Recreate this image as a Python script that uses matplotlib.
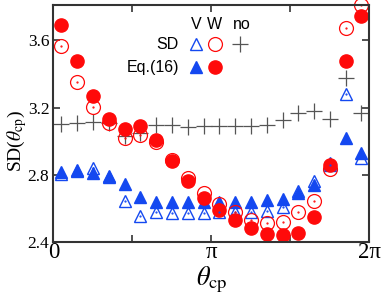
import numpy as np
import matplotlib
matplotlib.use("Agg")
import matplotlib.pyplot as plt

plt.rcParams["mathtext.fontset"] = "stix"

# bin centres of theta_cp (20 bins over 0..2pi)
theta = (np.arange(20) + 0.5) * np.pi / 10

v_sd = [2.806, 2.83, 2.838, 2.79, 2.646, 2.557, 2.577, 2.573, 2.575, 2.575,
        2.578, 2.578, 2.578, 2.587, 2.606, 2.705, 2.761, 2.86, 3.28, 2.898]
v_eq = [2.815, 2.822, 2.81, 2.795, 2.743, 2.666, 2.641, 2.64, 2.64, 2.64,
        2.64, 2.64, 2.64, 2.65, 2.657, 2.69, 2.739, 2.87, 3.02, 2.928]
w_sd = [3.564, 3.355, 3.202, 3.107, 3.017, 3.037, 2.997, 2.888, 2.779, 2.689,
        2.625, 2.579, 2.53, 2.514, 2.52, 2.576, 2.645, 2.834, 3.674, 3.81]
w_eq = [3.694, 3.48, 3.266, 3.133, 3.071, 3.091, 3.01, 2.882, 2.762, 2.663,
        2.589, 2.53, 2.484, 2.45, 2.44, 2.456, 2.549, 2.858, 3.479, 3.747]
no_w = [3.103, 3.107, 3.116, 3.107, 3.03, 3.05, 3.097, 3.097, 3.083, 3.09,
        3.09, 3.09, 3.09, 3.097, 3.125, 3.17, 3.18, 3.13, 3.376, 3.17]

red = "#ff0a0a"
blue = "#1448f0"
gray = "#555555"

fig = plt.figure(figsize=(3.82, 2.97), dpi=100)
ax = fig.add_axes([0.140, 0.185, 0.827, 0.798])

ax.plot(theta, no_w, ls="none", marker="+", ms=11, mew=0.9, color=gray, clip_on=False)
ax.plot(theta, v_sd, ls="none", marker="^", ms=9, mfc="none", mec=blue, mew=1.0, clip_on=False)
ax.plot(theta, v_eq, ls="none", marker="^", ms=9, color=blue, clip_on=False)
ax.plot(theta, w_sd, ls="none", marker="o", ms=10, mfc="none", mec=red, mew=0.9, clip_on=False)
ax.plot(theta, w_eq, ls="none", marker="o", ms=9.5, color=red, clip_on=False)
# little dots in the centre of the open symbols
ax.plot(theta, v_sd, ls="none", marker=".", ms=1.2, color=blue, clip_on=False)
ax.plot(theta, w_sd, ls="none", marker=".", ms=1.2, color=red, clip_on=False)

ax.set_xlim(0, 2 * np.pi)
ax.set_ylim(2.4, 3.81)
ax.set_xticks(np.arange(5) * np.pi / 2)
ax.set_xticklabels(["0", "", "π", "", "2π"], fontsize=16.5, family="Liberation Serif")
ax.set_yticks([2.4, 2.8, 3.2, 3.6])
ax.set_yticklabels(["2.4", "2.8", "3.2", "3.6"], fontsize=12.5, family="Liberation Serif")
ax.tick_params(direction="in", top=True, right=True, length=5, width=1.2, color="#333333")
ax.tick_params(axis="x", pad=0)
ax.tick_params(axis="y", pad=3)
for s in ax.spines.values():
    s.set_linewidth(1.5)
    s.set_color("#333333")

ax.set_xlabel(r"$\theta_{\rm cp}$", fontsize=19, labelpad=1)
ax.set_ylabel(r"SD($\theta_{\rm cp}$)", fontsize=14, family="Liberation Serif")
ax.yaxis.set_label_coords(-0.078, 0.426)

# legend drawn by hand
tr = ax.transAxes
def ax_xy(px, py):
    return ((px - 53.5) / 316.0, (242.0 - py) / 237.0)

sans = "Liberation Sans"
for lab, px in [("V", 196), ("W", 215), ("no", 242)]:
    ax.text(*ax_xy(px, 24), lab, transform=tr, ha="center", va="center", fontsize=11.5, family=sans)
ax.text(*ax_xy(179, 44), "SD", transform=tr, ha="right", va="center", fontsize=11.5, family=sans)
ax.text(*ax_xy(179, 67), "Eq.(16)", transform=tr, ha="right", va="center", fontsize=11.5, family=sans)
ax.plot(*ax_xy(196, 44), transform=tr, marker="^", ms=9, mfc="none", mec=blue, mew=1.0)
ax.plot(*ax_xy(215, 44), transform=tr, marker="o", ms=10, mfc="none", mec=red, mew=0.9)
ax.plot(*ax_xy(240, 44), transform=tr, marker="+", ms=11, mew=0.9, color=gray)
ax.plot(*ax_xy(196, 67), transform=tr, marker="^", ms=9, color=blue)
ax.plot(*ax_xy(215, 67), transform=tr, marker="o", ms=9.5, color=red)

fig.savefig("out.png", dpi=100)
